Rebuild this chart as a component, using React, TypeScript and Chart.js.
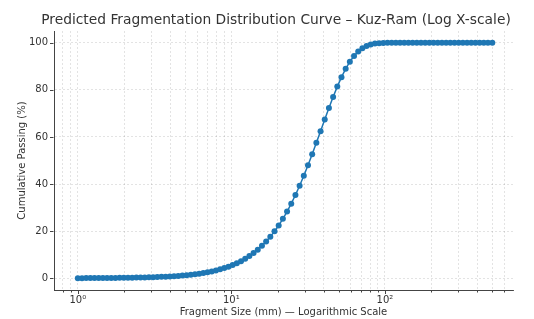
import React, { useEffect, useRef } from "react";
import { Chart, registerables } from "chart.js";
Chart.register(...registerables);

// Fragment sizes (mm), log-spaced 1..500
const sizes = [
  1, 1.0648, 1.1337, 1.2071, 1.2853, 1.3685, 1.4572, 1.5515, 1.652, 1.759,
  1.8729, 1.9942, 2.1234, 2.2609, 2.4073, 2.5632, 2.7292, 2.906, 3.0942, 3.2946,
  3.508, 3.7352, 3.9771, 4.2347, 4.5089, 4.8009, 5.1119, 5.4429, 5.7954, 6.1708,
  6.5704, 6.996, 7.449, 7.9314, 8.4451, 8.992, 9.5743, 10.194, 10.855, 11.558,
  12.306, 13.103, 13.952, 14.855, 15.817, 16.842, 17.932, 19.094, 20.33, 21.647,
  23.049, 24.541, 26.131, 27.823, 29.625, 31.544, 33.587, 35.762, 38.078, 40.544,
  43.17, 45.966, 48.942, 52.112, 55.487, 59.081, 62.907, 66.981, 71.319, 75.938,
  80.856, 86.092, 91.668, 97.605, 103.93, 110.66, 117.82, 125.45, 133.58, 142.23,
  151.44, 161.25, 171.69, 182.81, 194.65, 207.26, 220.68, 234.97, 250.19, 266.39,
  283.64, 302.01, 321.57, 342.4, 364.57, 388.18, 413.32, 440.09, 468.59, 500,
];

// Cumulative passing (%)
const passing = [
  0.04, 0.04, 0.05, 0.06, 0.07, 0.08, 0.09, 0.1, 0.11, 0.13,
  0.15, 0.17, 0.2, 0.23, 0.26, 0.3, 0.34, 0.39, 0.44, 0.51,
  0.58, 0.66, 0.76, 0.87, 0.99, 1.13, 1.3, 1.48, 1.69, 1.94,
  2.21, 2.53, 2.89, 3.3, 3.77, 4.3, 4.9, 5.59, 6.38, 7.26,
  8.27, 9.4, 10.69, 12.13, 13.76, 15.59, 17.63, 19.91, 22.43, 25.23,
  28.3, 31.67, 35.33, 39.28, 43.5, 47.98, 52.66, 57.51, 62.45, 67.41,
  72.29, 76.98, 81.38, 85.39, 88.94, 91.95, 94.41, 96.31, 97.71, 98.67,
  99.29, 99.65, 99.85, 99.94, 99.98, 99.99, 100, 100, 100, 100,
  100, 100, 100, 100, 100, 100, 100, 100, 100, 100,
  100, 100, 100, 100, 100, 100, 100, 100, 100, 100,
];

const xMajorTicks = [1, 10, 100];
const xMajorLabels = ["10\u2070", "10\u00b9", "10\u00b2"];
const xMinorTicks = [
  0.8, 0.9, 2, 3, 4, 5, 6, 7, 8, 9, 20, 30, 40, 50, 60, 70, 80, 90,
  200, 300, 400, 500, 600,
];
const yTicks = [0, 20, 40, 60, 80, 100];

const TITLE = "Predicted Fragmentation Distribution Curve \u2013 Kuz-Ram (Log X-scale)";
const X_TITLE = "Fragment Size (mm) \u2014 Logarithmic Scale";
const Y_TITLE = "Cumulative Passing (%)";

const FONT = "'DejaVu Sans', sans-serif";
const TEXT = "#333333";
const SPINE = "#444444";
const GRID = "rgba(0,0,0,0.14)";
const BLUE = "#1f77b4";

export default function App() {
  const ref = useRef<HTMLCanvasElement | null>(null);

  useEffect(() => {
    document.body.style.margin = "0";
    const canvas = ref.current;
    if (!canvas) return;

    const decor = {
      id: "decor",
      afterDraw(chart: any) {
        const ctx = chart.ctx;
        const xs = chart.scales.x;
        const ys = chart.scales.y;
        const area = chart.chartArea;
        ctx.save();
        ctx.strokeStyle = SPINE;
        ctx.lineWidth = 1;
        ctx.beginPath();
        const yb = Math.round(area.bottom) + 0.5;
        xMajorTicks.forEach((v) => {
          const p = Math.round(xs.getPixelForValue(v)) + 0.5;
          ctx.moveTo(p, yb);
          ctx.lineTo(p, yb + 3.5);
        });
        xMinorTicks.forEach((v) => {
          const p = Math.round(xs.getPixelForValue(v)) + 0.5;
          ctx.moveTo(p, yb);
          ctx.lineTo(p, yb + 2);
        });
        const xl = Math.round(area.left) - 0.5;
        yTicks.forEach((v) => {
          const p = Math.round(ys.getPixelForValue(v)) + 0.5;
          ctx.moveTo(xl, p);
          ctx.lineTo(xl - 3.5, p);
        });
        ctx.stroke();
        ctx.fillStyle = TEXT;
        ctx.font = `13.8px ${FONT}`;
        ctx.textAlign = "center";
        ctx.textBaseline = "alphabetic";
        ctx.fillText(TITLE, 276, 24);
        ctx.restore();
      },
    };

    const chart = new Chart(canvas, {
      type: "line",
      data: {
        datasets: [
          {
            data: sizes.map((s, i) => ({ x: s, y: passing[i] })),
            borderColor: BLUE,
            backgroundColor: BLUE,
            borderWidth: 1.5,
            pointRadius: 3,
            pointBorderWidth: 0,
            pointBackgroundColor: BLUE,
            tension: 0,
            fill: false,
          },
        ],
      },
      options: {
        responsive: false,
        animation: false,
        events: [],
        layout: { padding: { top: 31, right: 21, left: 0, bottom: 0 } },
        plugins: {
          legend: { display: false },
          title: { display: false },
          tooltip: { enabled: false },
        },
        scales: {
          x: {
            type: "logarithmic",
            min: 0.733,
            max: 682,
            afterBuildTicks: (scale: any) => {
              const all = [
                ...xMajorTicks.map((v) => ({ value: v, major: true })),
                ...xMinorTicks.map((v) => ({ value: v, major: false })),
              ].sort((a, b) => a.value - b.value);
              scale.ticks = all;
            },
            afterFit: (scale: any) => {
              scale.height = 29;
            },
            ticks: {
              autoSkip: false,
              maxRotation: 0,
              minRotation: 0,
              padding: 0,
              color: TEXT,
              font: { family: FONT, size: 10 },
              callback: (v: any) => {
                const i = xMajorTicks.indexOf(Number(v));
                return i >= 0 ? xMajorLabels[i] : "";
              },
            },
            grid: {
              color: GRID,
              lineWidth: 0.8,
              drawTicks: true,
              tickLength: 4,
              tickColor: "transparent",
            },
            border: { display: true, color: SPINE, width: 1, dash: [2, 2] },
            title: {
              display: true,
              text: X_TITLE,
              color: TEXT,
              font: { family: FONT, size: 10 },
              padding: { top: 0, bottom: 1 },
            },
          },
          y: {
            type: "linear",
            min: -5,
            max: 105,
            afterBuildTicks: (scale: any) => {
              scale.ticks = yTicks.map((v) => ({ value: v }));
            },
            afterFit: (scale: any) => {
              scale.width = 54;
            },
            ticks: {
              padding: 2,
              color: TEXT,
              font: { family: FONT, size: 10 },
            },
            grid: {
              color: GRID,
              lineWidth: 0.8,
              drawTicks: true,
              tickLength: 4,
              tickColor: "transparent",
            },
            border: { display: true, color: SPINE, width: 1, dash: [2, 2] },
            title: {
              display: true,
              text: Y_TITLE,
              color: TEXT,
              font: { family: FONT, size: 10 },
              padding: { top: 16, bottom: 0 },
            },
          },
        },
      },
      plugins: [decor],
    } as any);

    return () => chart.destroy();
  }, []);

  return (
    <div style={{ width: 534, height: 319 }}>
      <canvas ref={ref} width={534} height={319} style={{ display: "block" }} />
    </div>
  );
}
